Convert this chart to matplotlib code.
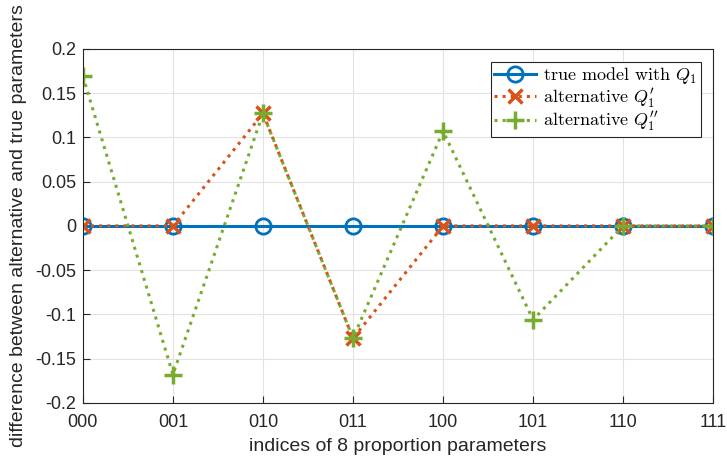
import numpy as np
import matplotlib
matplotlib.use("Agg")
import matplotlib.pyplot as plt

plt.rcParams['font.family'] = ['Liberation Sans', 'DejaVu Sans']
plt.rcParams['mathtext.fontset'] = 'cm'

labels = ["000", "001", "010", "011", "100", "101", "110", "111"]
true_model = [0, 0, 0, 0, 0, 0, 0, 0]
alt_q1p = [0, 0, 0.127, -0.127, 0, 0, 0, 0]
alt_q1pp = [0.169, -0.168, 0.127, -0.127, 0.107, -0.106, 0, 0]

x = np.arange(len(labels))

fig = plt.figure(figsize=(7.27, 4.61), dpi=100)
ax = fig.add_axes([0.114, 0.126, 0.867, 0.768])

ax.plot(x, true_model, '-o', color='#0072BD', lw=2.2, ms=11, mfc='none', mew=2,
        label=r'true model with $Q_1$')
ax.plot(x, alt_q1p, ':x', color='#D95319', lw=2.2, ms=10, mew=2.5,
        label=r"alternative $Q_1'$")
ax.plot(x, alt_q1pp, ':+', color='#77AC30', lw=2.2, ms=13, mew=2.5,
        label=r"alternative $Q_1''$")

ax.set_xlim(0, 7)
ax.set_ylim(-0.2, 0.2)
ax.set_xticks(x)
ax.set_xticklabels(labels)
ax.set_yticks(np.arange(-0.2, 0.201, 0.05))
ax.set_yticklabels(["-0.2", "-0.15", "-0.1", "-0.05", "0", "0.05", "0.1", "0.15", "0.2"])
ax.tick_params(direction='in', labelsize=13, length=5, color='#262626', labelcolor='#262626')
ax.tick_params(axis='x', pad=8)
ax.tick_params(axis='y', pad=5)
ax.grid(True, color='#e3e3e3', lw=0.8)
ax.set_axisbelow(True)
for s in ax.spines.values():
    s.set_color('#262626')
    s.set_linewidth(0.8)

ax.set_xlabel("indices of 8 proportion parameters", fontsize=14, color='#262626', labelpad=5)
ax.set_ylabel("difference between alternative and true parameters", fontsize=14, color='#262626', labelpad=6)

leg = ax.legend(loc='upper right', fancybox=False, framealpha=1,
                edgecolor='#262626', handlelength=2.3, borderaxespad=0.7,
                borderpad=0.2, labelspacing=0.0, handletextpad=0.4,
                prop={'family': 'cmr10', 'size': 13})
leg.get_frame().set_linewidth(0.8)

fig.savefig("out.png", dpi=100)
